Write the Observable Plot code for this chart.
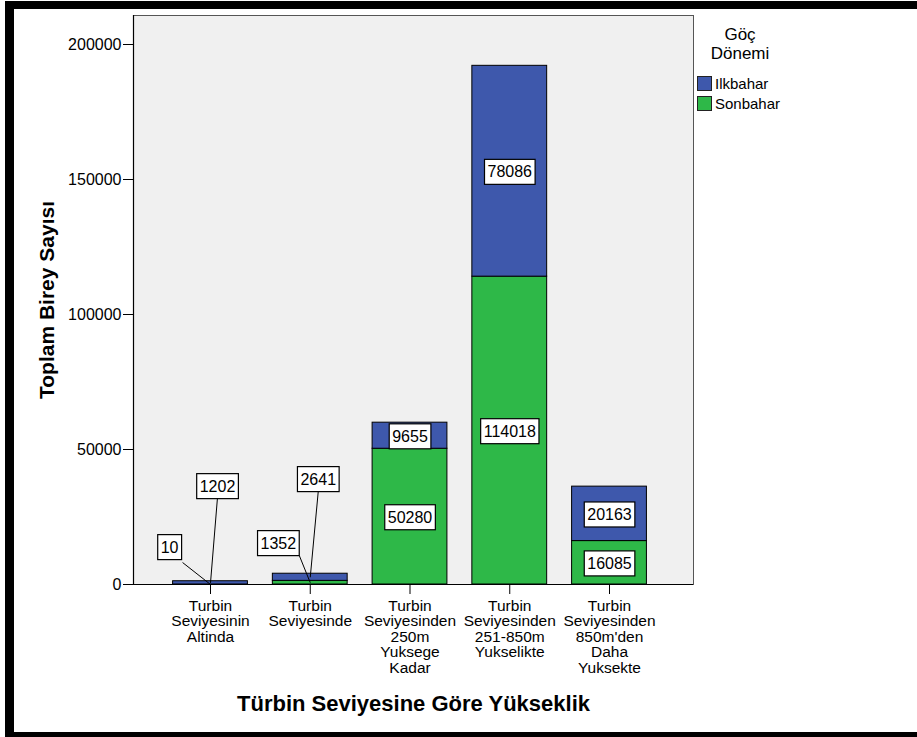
<!DOCTYPE html>
<html>
<head>
<meta charset="utf-8">
<script src="https://cdn.jsdelivr.net/npm/d3@7"></script>
<script src="https://cdn.jsdelivr.net/npm/@observablehq/plot@0.6"></script>
<style>
  body { margin: 0; background: #fff; }
  #wrap { position: relative; width: 917px; height: 737px; overflow: hidden; font-family: "Liberation Sans", Arial, sans-serif; }
  #border { position: absolute; left: 5px; top: 1px; width: 940px; height: 736px; box-sizing: border-box;
            border-top: 8px solid #000; border-left: 9px solid #000; border-bottom: 5px solid #000; }
  #chart { position: absolute; left: 0; top: 0; }
  #legend { position: absolute; left: 697px; top: 25px; width: 90px; color: #000; }
  #legend .title { text-align: center; font-size: 17px; line-height: 19px; margin-left: -4px; margin-bottom: 10px; }
  #legend .item { display: flex; align-items: center; height: 20px; font-size: 15px; }
  #legend .sw { width: 13px; height: 13px; border: 1px solid #222; margin-right: 3px; }
</style>
</head>
<body>
<div id="wrap">
  <div id="border"></div>
  <div id="legend"></div>
</div>
<script>
// Height band categories (x axis)
const categories = [
  "Turbin\nSeviyesinin\nAltinda",
  "Turbin\nSeviyesinde",
  "Turbin\nSeviyesinden\n250m\nYuksege\nKadar",
  "Turbin\nSeviyesinden\n251-850m\nYukselikte",
  "Turbin\nSeviyesinden\n850m'den\nDaha\nYuksekte"
];
// Migration seasons (legend order)
const seasons = ["Ilkbahar", "Sonbahar"];
const seasonColors = ["#3E58AC", "#2EB848"];
// Individual counts per category
const sonbahar = [10, 1352, 50280, 114018, 16085];
const ilkbahar = [1202, 2641, 9655, 78086, 20163];
// Y axis ticks
const yTicks = [0, 50000, 100000, 150000, 200000];

// Stack: Sonbahar at the bottom, Ilkbahar above
const segments = categories.flatMap((c, i) => [
  {i, season: "Sonbahar", value: sonbahar[i], y1: 0, y2: sonbahar[i]},
  {i, season: "Ilkbahar", value: ilkbahar[i], y1: sonbahar[i], y2: sonbahar[i] + ilkbahar[i]}
]);

// Segments too thin for an inside label get a callout: label offset and
// leader start offset, in axis units relative to the segment midpoint.
const callout = {
  "0-Sonbahar": {ox: -0.41, oy: 14070, sx: -0.28, sy: 8140},
  "0-Ilkbahar": {ox: 0.07, oy: 36050, sx: 0.07, sy: 31600},
  "1-Sonbahar": {ox: -0.32, oy: 14880, sx: -0.11, sy: 10060},
  "1-Ilkbahar": {ox: 0.08, oy: 36590, sx: 0.08, sy: 31770}
};

const labels = segments.map(d => {
  const mid = (d.y1 + d.y2) / 2;
  const c = callout[`${d.i}-${d.season}`];
  return c
    ? {...d, ax: d.i, ay: mid, lx: d.i + c.ox, ly: mid + c.oy, sx: d.i + c.sx, sy: mid + c.sy, leader: true}
    : {...d, ax: d.i, ay: mid, lx: d.i, ly: mid, leader: false};
});
const leaders = labels.filter(d => d.leader);

const halfBar = 0.375;
const xDomain = [-0.772, 4.842];
const font = '"Liberation Sans", Arial, sans-serif';

const chart = Plot.plot({
  width: 917,
  height: 737,
  marginLeft: 133,
  marginRight: 224,
  marginTop: 15,
  marginBottom: 153,
  style: {fontFamily: font, background: "transparent", color: "#000"},
  x: {domain: xDomain},
  y: {domain: [0, 210741]},
  color: {domain: seasons, range: seasonColors},
  marks: [
    Plot.frame({fill: "#f0f0f0", stroke: "#555"}),
    Plot.rect(segments, {
      x1: d => d.i - halfBar, x2: d => d.i + halfBar,
      y1: "y1", y2: "y2", fill: "season", stroke: "#000", strokeWidth: 1
    }),
    Plot.ruleY([0], {stroke: "#000", strokeWidth: 1.2}),
    Plot.ruleX([xDomain[0]], {stroke: "#000", strokeWidth: 1.2}),
    Plot.axisY({
      ticks: yTicks, tickFormat: d3.format("d"), tickSize: 10, tickPadding: 2,
      fontSize: 16, label: null
    }),
    Plot.axisX({
      ticks: d3.range(categories.length), tickFormat: i => categories[i],
      tickSize: 10, tickPadding: 5, fontSize: 15.5, lineHeight: 1, label: null
    }),
    Plot.link(leaders, {x1: "sx", y1: "sy", x2: "ax", y2: "ay", stroke: "#000", strokeWidth: 1}),
    Plot.text(labels, {
      x: "lx", y: "ly", text: d => String(d.value), fontSize: 16, dy: 1,
      fill: "#000", ariaDescription: "value labels"
    }),
    Plot.text(["Toplam Birey Sayısı"], {
      text: d => d, frameAnchor: "left", dx: -86, rotate: -90,
      textAnchor: "middle", lineAnchor: "middle",
      fontSize: 21, fontWeight: "bold", fill: "#000"
    }),
    Plot.text(["Türbin Seviyesine Göre Yükseklik"], {
      text: d => d, frameAnchor: "bottom", dy: 119,
      textAnchor: "middle", lineAnchor: "middle",
      fontSize: 22, fontWeight: "bold", fill: "#000"
    })
  ]
});
chart.id = "chart";
document.getElementById("wrap").append(chart);

// Framed boxes behind the value labels
const ns = "http://www.w3.org/2000/svg";
let labelTexts = Array.from(chart.querySelectorAll('g[aria-description="value labels"] text'));
if (!labelTexts.length) {
  const wanted = new Set(labels.map(d => String(d.value)));
  labelTexts = Array.from(chart.querySelectorAll("text")).filter(t => wanted.has(t.textContent));
}
labelTexts.forEach(t => {
  const b = t.getBBox();
  const r = document.createElementNS(ns, "rect");
  r.setAttribute("x", b.x - 3);
  r.setAttribute("y", b.y - 4);
  r.setAttribute("width", b.width + 6);
  r.setAttribute("height", b.height + 8);
  r.setAttribute("fill", "#fff");
  r.setAttribute("stroke", "#000");
  r.setAttribute("stroke-width", 1.2);
  if (t.getAttribute("transform")) r.setAttribute("transform", t.getAttribute("transform"));
  t.parentNode.insertBefore(r, t);
});

// Legend
const legend = document.getElementById("legend");
legend.innerHTML = `<div class="title">Göç<br>Dönemi</div>` +
  seasons.map((s, k) =>
    `<div class="item"><span class="sw" style="background:${seasonColors[k]}"></span>${s}</div>`
  ).join("");
</script>
</body>
</html>
